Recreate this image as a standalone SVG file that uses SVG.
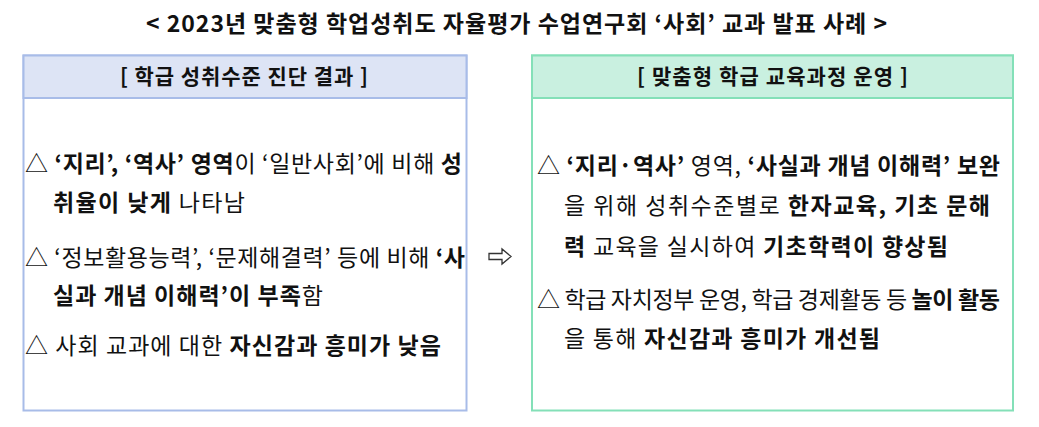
<svg xmlns="http://www.w3.org/2000/svg" width="1039" height="427" viewBox="0 0 1039 427">
<style>
text{font-family:"Noto Sans CJK KR","Noto Sans",sans-serif;fill:#111;}
.title{font-size:23px;font-weight:700;}
.hd{font-size:21px;font-weight:700;}
.tx{font-size:23px;font-weight:400;}
.b{font-weight:700;}
.boxL{fill:#fff;stroke:#a8bce8;stroke-width:2;}
.hdL{fill:#dde4f5;stroke:#a8bce8;stroke-width:2;}
.boxR{fill:#fff;stroke:#84e0b8;stroke-width:2;}
.hdR{fill:#c9f0e0;stroke:#84e0b8;stroke-width:2;}
.arrow{fill:#fff;stroke:#333;stroke-width:1.3;stroke-linejoin:miter;}
</style>
<rect width="1039" height="427" fill="#fff"/>
<g id="title">
<text class="title" x="146" y="32" textLength="741" lengthAdjust="spacing">&lt; 2023년 맞춤형 학업성취도 자율평가 수업연구회 ‘사회’ 교과 발표 사례 &gt;</text>
</g>
<g id="node-diagnosis">
<rect class="boxL" x="23.5" y="55.5" width="443" height="355"/>
<rect class="hdL" x="23.5" y="55.5" width="443" height="42.5"/>
<text class="hd" x="120" y="84" textLength="248" lengthAdjust="spacing">[ 학급 성취수준 진단 결과 ]</text>
<text class="tx" x="25" y="172" textLength="437" lengthAdjust="spacing">△ <tspan class="b">‘지리’, ‘역사’ 영역</tspan>이 ‘일반사회’에 비해 <tspan class="b">성</tspan></text>
<text class="tx" x="53" y="211" textLength="192" lengthAdjust="spacing"><tspan class="b">취율이 낮게</tspan> 나타남</text>
<text class="tx" x="25" y="266" textLength="440" lengthAdjust="spacing">△ ‘정보활용능력’, ‘문제해결력’ 등에 비해 <tspan class="b">‘사</tspan></text>
<text class="tx" x="53" y="304" textLength="270" lengthAdjust="spacing"><tspan class="b">실과 개념 이해력’이 부족</tspan>함</text>
<text class="tx" x="25" y="354" textLength="416" lengthAdjust="spacing">△ 사회 교과에 대한 <tspan class="b">자신감과 흥미가 낮음</tspan></text>
</g>
<g id="connectors">
<path class="arrow" d="M489 253.5 H502 V249 L511 256.5 L502 264 V259.5 H489 Z"/>
</g>
<g id="node-curriculum">
<rect class="boxR" x="532" y="55.5" width="481" height="355"/>
<rect class="hdR" x="532" y="55.5" width="481" height="42.5"/>
<text class="hd" x="637" y="84" textLength="271" lengthAdjust="spacing">[ 맞춤형 학급 교육과정 운영 ]</text>
<text class="tx" x="537" y="174" textLength="463" lengthAdjust="spacing">△ <tspan class="b">‘지리·역사’</tspan> 영역, <tspan class="b">‘사실과 개념 이해력’ 보완</tspan></text>
<text class="tx" x="564" y="214" textLength="426" lengthAdjust="spacing">을 위해 성취수준별로 <tspan class="b">한자교육, 기초 문해</tspan></text>
<text class="tx" x="564" y="255" textLength="384" lengthAdjust="spacing"><tspan class="b">력</tspan> 교육을 실시하여 <tspan class="b">기초학력이 향상됨</tspan></text>
<text class="tx" x="537" y="308" textLength="463" lengthAdjust="spacing">△ 학급 자치정부 운영, 학급 경제활동 등 <tspan class="b">놀이 활동</tspan></text>
<text class="tx" x="564" y="347" textLength="316" lengthAdjust="spacing">을 통해 <tspan class="b">자신감과 흥미가 개선됨</tspan></text>
</g>
</svg>
